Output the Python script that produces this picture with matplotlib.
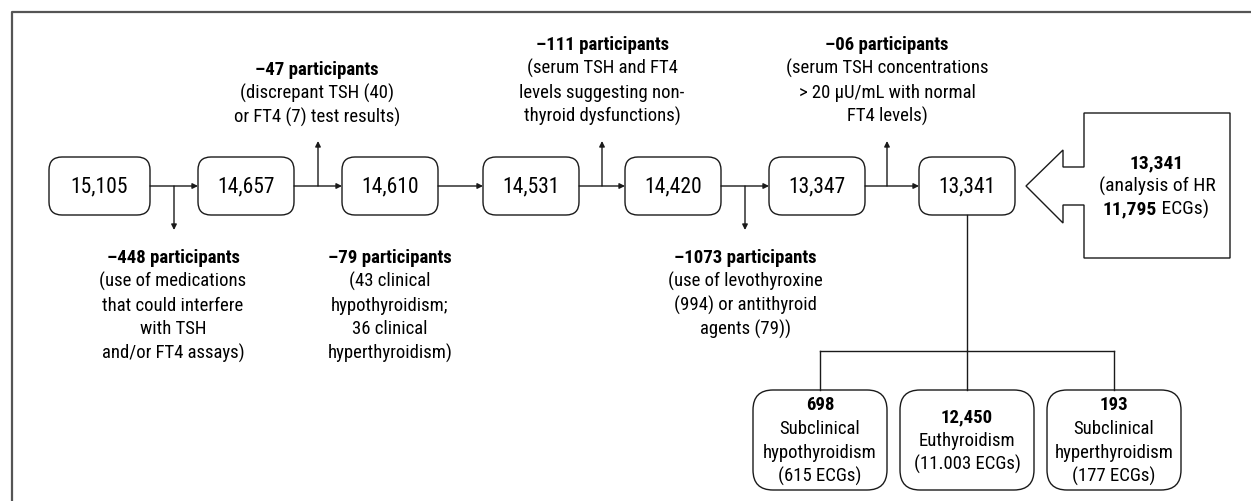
import matplotlib
matplotlib.use("Agg")
import matplotlib.pyplot as plt
from matplotlib.patches import FancyBboxPatch, Polygon

plt.rcParams['font.family'] = ['Roboto Condensed', 'Arial Narrow', 'Roboto', 'DejaVu Sans']

# data
main_counts = ['15,105', '14,657', '14,610', '14,531', '14,420', '13,347', '13,341']
excl_counts = ['448', '47', '79', '111', '1073', '06']
excl_reasons = [
    ['(use of medications', 'that could interfere', 'with TSH', 'and/or FT4 assays)'],
    ['(discrepant TSH (40)', 'or FT4 (7) test results)'],
    ['(43 clinical', 'hypothyroidism;', '36 clinical', 'hyperthyroidism)'],
    ['(serum TSH and FT4', 'levels suggesting non-', 'thyroid dysfunctions)'],
    ['(use of levothyroxine', '(994) or antithyroid', 'agents (79))'],
    ['(serum TSH concentrations', '> 20 µU/mL with normal', 'FT4 levels)'],
]
group_counts = ['698', '12,450', '193']
group_names = [['Subclinical', 'hypothyroidism'], ['Euthyroidism'], ['Subclinical', 'hyperthyroidism']]
group_ecgs = ['615', '11.003', '177']
hr_count = '13,341'
hr_ecgs = '11,795'

# layout (pixel units)
box_left = [49, 198, 342, 483, 625, 769, 919]
box_w = [101, 96, 96, 96, 96, 96, 96]
box_top, box_h = 158, 58
mid_y = box_top + box_h / 2
excl_x = [173, 317, 390, 602, 745, 887]
excl_y0 = [258, 70, 258, 45, 258, 45]
excl_dir = ['down', 'up', None, 'up', 'down', 'up']
branch_x = [174, 318, None, 602, 745, 887]
step = 23.8
FS = 13.5
LC = '#1a1a1a'

fig = plt.figure(figsize=(12.51, 5.02), dpi=100)
ax = fig.add_axes([0, 0, 1, 1])
ax.set_xlim(0, 1251)
ax.set_ylim(502, 0)
ax.axis('off')

# outer frame (only top and left visible)
ax.plot([12, 12, 1251], [502, 13, 13], color='#555555', lw=1.6)


def arrow(x0, y0, x1, y1):
    ax.annotate('', xy=(x1, y1), xytext=(x0, y0),
                arrowprops=dict(arrowstyle='-|>', mutation_scale=8, lw=1.0,
                                color=LC, shrinkA=0, shrinkB=0))


# main boxes
for i, c in enumerate(main_counts):
    ax.add_patch(FancyBboxPatch((box_left[i], box_top), box_w[i], box_h,
                                boxstyle='round,pad=0,rounding_size=13',
                                fc='white', ec=LC, lw=1.0))
    ax.text(box_left[i] + box_w[i] / 2, mid_y, c, ha='center', va='center',
            fontsize=15.5)
    if i > 0:
        arrow(box_left[i - 1] + box_w[i - 1], mid_y, box_left[i], mid_y)

# exclusions
for i, n in enumerate(excl_counts):
    lines = ['–' + n + ' participants'] + excl_reasons[i]
    for k, line in enumerate(lines):
        ax.text(excl_x[i], excl_y0[i] + k * step, line, ha='center', va='center',
                fontsize=FS, fontweight='bold' if k == 0 else 'normal')
    if excl_dir[i] == 'up':
        arrow(branch_x[i], mid_y, branch_x[i], 142)
    elif excl_dir[i] == 'down':
        arrow(branch_x[i], mid_y, branch_x[i], 231)

# big arrow box with HR analysis
pts = [(1084, 114), (1230, 114), (1230, 259), (1084, 259), (1084, 206), (1063, 206),
       (1063, 224), (1026, 187), (1063, 151), (1063, 168), (1084, 168)]
ax.add_patch(Polygon(pts, closed=True, fc='white', ec=LC, lw=1.0))
ax.text(1157, 163, hr_count, ha='center', va='center', fontsize=FS + 0.5, fontweight='bold')
ax.text(1157, 186, '(analysis of HR', ha='center', va='center', fontsize=FS + 0.5)
ax.text(1157, 209, hr_ecgs, ha='right', va='center', fontsize=FS + 0.5, fontweight='bold')
ax.text(1157, 209, ' ECGs)', ha='left', va='center', fontsize=FS + 0.5)

# subgroup tree
gx = [820, 967, 1114]
g_top, g_h, g_w = 391, 100, 134
split_y = 352
ax.plot([966.5, 966.5], [box_top + box_h, split_y], color=LC, lw=1.0)
ax.plot([gx[0], gx[-1]], [split_y, split_y], color=LC, lw=1.0)
for j, x in enumerate(gx):
    ax.plot([x, x], [split_y, g_top], color=LC, lw=1.0)
    ax.add_patch(FancyBboxPatch((x - g_w / 2, g_top), g_w, g_h,
                                boxstyle='round,pad=0,rounding_size=20',
                                fc='white', ec=LC, lw=1.0))
    lines = [group_counts[j]] + group_names[j] + ['(' + group_ecgs[j] + ' ECGs)']
    y0 = g_top + g_h / 2 - (len(lines) - 1) * step / 2
    for k, line in enumerate(lines):
        ax.text(x, y0 + k * step, line, ha='center', va='center', fontsize=FS,
                fontweight='bold' if k == 0 else 'normal')

fig.savefig('out.png', dpi=100)
